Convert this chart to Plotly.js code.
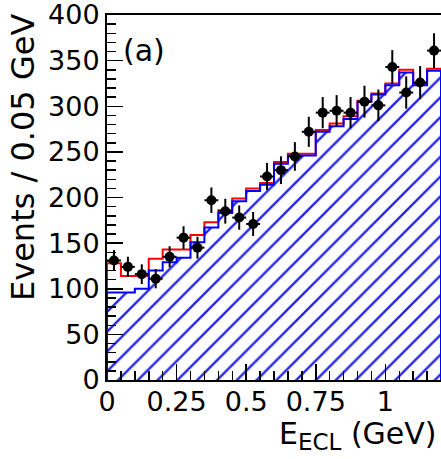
<!DOCTYPE html>
<html><head><meta charset="utf-8">
<script src="https://cdn.plot.ly/plotly-3.0.1.min.js"></script>
<style>html,body{margin:0;padding:0;background:#fff;overflow:hidden}</style>
</head><body><div id="chart" style="width:441px;height:459px"></div>
<script>
const binCenters = [0.025,0.075,0.125,0.175,0.225,0.275,0.325,0.375,0.425,0.475,0.525,0.575,0.625,0.675,0.725,0.775,0.825,0.875,0.925,0.975,1.025,1.075,1.125,1.175];
const binWidth = 0.05;
const dataCounts = [131,124,116,111,135,156,145,197,185,178,171,223,230,245,272,293,295,293,305,301,343,315,326,361];
const dataErrors = [11.4,11.1,10.8,10.5,11.6,12.5,12.0,14.0,13.6,13.3,13.1,14.9,15.2,15.7,16.5,17.1,17.2,17.1,17.5,17.3,18.5,17.7,18.1,19.0];
const totalFit = [128,114,114,133,143,143,159,173,186,199,210,216,239,248,248,274,281,289,306,314,325,340,325,341];
const background = [96,96,100,120,129,134,151,167,183,196,207,214,237,246,246,272,278,286,305,313,323,337,323,339];
const xTickVals = [0,0.25,0.5,0.75,1];
const xTickText = ['0','0.25','0.5','0.75','1'];
const yTickVals = [0,50,100,150,200,250,300,350,400];

function steps(vals){
  const x=[0], y=[0];
  vals.forEach((v,i)=>{ x.push(binCenters[i]-binWidth/2); y.push(v); });
  const end = binCenters[binCenters.length-1]+binWidth/2;
  x.push(end); y.push(vals[vals.length-1]);
  x.push(end); y.push(0);
  return {x,y};
}
const red = steps(totalFit), blue = steps(background);
const FONT = 'DejaVu Sans, Liberation Sans, Arial, sans-serif';

const traces = [
  {x: red.x, y: red.y, type:'scatter', mode:'lines', line:{shape:'hv', color:'#ff0000', width:2}, hoverinfo:'skip'},
  {x: blue.x, y: blue.y, type:'scatter', mode:'lines', line:{shape:'hv', color:'#0000ff', width:2},
   fill:'tozeroy', fillcolor:'rgba(0,0,0,0)',
   fillpattern:{shape:'/', fgcolor:'#2424e6', fgopacity:1, bgcolor:'rgba(255,255,255,0)', size:14, solidity:0.17, fillmode:'overlay'},
   hoverinfo:'skip'},
  {x: binCenters, y: dataCounts, type:'scatter', mode:'markers',
   marker:{color:'#000', size:10},
   error_y:{type:'data', array:dataErrors, visible:true, color:'#000', thickness:2, width:0},
   error_x:{type:'constant', value:binWidth/2, visible:true, color:'#000', thickness:2, width:0}}
];

const layout = {
  width:441, height:459,
  margin:{l:107, r:0, t:15, b:79},
  paper_bgcolor:'#fff', plot_bgcolor:'#fff',
  showlegend:false,
  font:{family:FONT, color:'#000'},
  xaxis:{range:[0,1.2], tickvals:xTickVals, ticktext:xTickText, ticks:'inside', ticklen:16, tickwidth:1.5, tickcolor:'#000',
    showline:true, linecolor:'#000', linewidth:2, mirror:true, showgrid:false, zeroline:false,
    tickfont:{family:FONT, size:27, color:'#000'}, ticklabelstandoff:-3, ticklabeloverflow:'allow',
    minor:{dtick:0.05, ticks:'inside', ticklen:9, tickwidth:1.5, tickcolor:'#000', showgrid:false}},
  yaxis:{range:[0,400], tickvals:yTickVals, ticks:'inside', ticklen:16, tickwidth:1.5, tickcolor:'#000',
    showline:true, linecolor:'#000', linewidth:2, mirror:false, showgrid:false, zeroline:false,
    tickfont:{family:FONT, size:27, color:'#000'}, ticklabeloverflow:'allow',
    minor:{dtick:10, ticks:'inside', ticklen:9, tickwidth:1.5, tickcolor:'#000', showgrid:false}},
  annotations:[
    {text:'(a)', xref:'paper', yref:'paper', x:0.043, y:0.955, xanchor:'left', yanchor:'top', showarrow:false, font:{family:FONT, size:30, color:'#000'}},
    {text:'Events / 0.05 GeV', xref:'paper', yref:'paper', x:-0.25, y:0.6096, xanchor:'center', yanchor:'middle', textangle:-90, showarrow:false, font:{family:FONT, size:32, color:'#000'}},
    {text:'E<sub><span style="font-size:23px">ECL</span></sub> (GeV)', xref:'paper', yref:'paper', x:0.993, y:-0.094, xanchor:'right', yanchor:'top', showarrow:false, font:{family:FONT, size:30, color:'#000'}}
  ]
};
Plotly.newPlot('chart', traces, layout, {displayModeBar:false, staticPlot:true});
</script></body></html>
